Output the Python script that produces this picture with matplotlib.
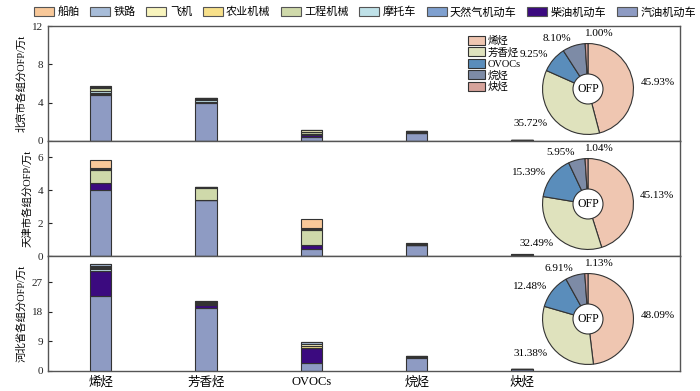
import numpy as np
import matplotlib
matplotlib.use('Agg')
import matplotlib.pyplot as plt
from matplotlib.patches import Patch, Circle

plt.rcParams['font.family'] = ['Liberation Serif', 'Noto Sans CJK SC', 'DejaVu Sans']
plt.rcParams['axes.unicode_minus'] = False

# 数据
categories = ['烯烃', '芳香烃', 'OVOCs', '烷烃', '炔烃']
sources = ['汽油机动车', '柴油机动车', '天然气机动车', '摩托车', '工程机械',
           '农业机械', '飞机', '铁路', '船舶']  # 自下而上堆叠
source_colors = ['#8e9bc3', '#3b0a7f', '#7fa0cf', '#bfe1e8', '#cfd9aa',
                 '#f7e08a', '#f8f4bd', '#a7bcd8', '#f8c899']

# 北京 (万t)
bj_gasoline = [4.75, 4.00, 0.45, 0.80, 0.08]
bj_diesel = [0.20, 0.05, 0.20, 0.05, 0.01]
bj_cng = [0.05, 0.02, 0.05, 0.02, 0.00]
bj_moto = [0.25, 0.25, 0.05, 0.10, 0.01]
bj_constr = [0.30, 0.10, 0.15, 0.03, 0.01]
bj_agri = [0.05, 0.03, 0.05, 0.01, 0.00]
bj_air = [0.05, 0.02, 0.15, 0.01, 0.00]
bj_rail = [0.05, 0.03, 0.05, 0.02, 0.01]
bj_ship = [0.00, 0.00, 0.00, 0.00, 0.00]

# 天津
tj_gasoline = [4.00, 3.39, 0.42, 0.70, 0.08]
tj_diesel = [0.44, 0.00, 0.23, 0.00, 0.00]
tj_cng = [0.00, 0.00, 0.00, 0.00, 0.00]
tj_moto = [0.00, 0.00, 0.00, 0.00, 0.00]
tj_constr = [0.81, 0.77, 0.93, 0.00, 0.00]
tj_agri = [0.05, 0.03, 0.05, 0.02, 0.01]
tj_air = [0.00, 0.00, 0.00, 0.00, 0.00]
tj_rail = [0.05, 0.03, 0.07, 0.05, 0.02]
tj_ship = [0.50, 0.00, 0.56, 0.00, 0.00]

# 河北
hb_gasoline = [22.8, 19.2, 2.5, 4.0, 0.60]
hb_diesel = [7.5, 0.8, 4.4, 0.2, 0.05]
hb_cng = [0.2, 0.05, 0.1, 0.05, 0.0]
hb_moto = [0.4, 0.1, 0.05, 0.05, 0.0]
hb_constr = [0.3, 0.1, 0.1, 0.05, 0.0]
hb_agri = [0.5, 0.3, 0.5, 0.1, 0.02]
hb_air = [0.4, 0.3, 0.55, 0.05, 0.01]
hb_rail = [0.5, 0.5, 0.55, 0.2, 0.05]
hb_ship = [0.0, 0.0, 0.0, 0.0, 0.0]

# 饼图占比 (%)
bj_share = [45.93, 35.72, 9.25, 8.10, 1.00]
tj_share = [45.13, 32.49, 15.39, 5.95, 1.04]
hb_share = [48.09, 31.38, 12.48, 6.91, 1.13]
pie_colors = ['#efc6b1', '#dfe2bd', '#5a8dbb', '#7d8ba6', '#d6a39b']

panels = [
    ('北京市各组分OFP/万t', [bj_gasoline, bj_diesel, bj_cng, bj_moto, bj_constr,
                          bj_agri, bj_air, bj_rail, bj_ship], bj_share, 12, [0, 4, 8, 12]),
    ('天津市各组分OFP/万t', [tj_gasoline, tj_diesel, tj_cng, tj_moto, tj_constr,
                          tj_agri, tj_air, tj_rail, tj_ship], tj_share, 7, [0, 2, 4, 6]),
    ('河北省各组分OFP/万t', [hb_gasoline, hb_diesel, hb_cng, hb_moto, hb_constr,
                          hb_agri, hb_air, hb_rail, hb_ship], hb_share, 35, [0, 9, 18, 27]),
]

W, H = 700, 391
fig = plt.figure(figsize=(7, 3.91), dpi=100)

left, right = 48 / W, 680 / W
tops = [26, 141, 256]
ph = 115
x = np.arange(len(categories))
edge = '#333333'

for i, (ylabel, stacks, share, ymax, yticks) in enumerate(panels):
    top = tops[i]
    ax = fig.add_axes([left, 1 - (top + ph) / H, right - left, ph / H])
    bottom = np.zeros(len(categories))
    for vals, col in zip(stacks, source_colors):
        vals = np.array(vals)
        ax.bar(x, vals, width=0.2, bottom=bottom, color=col,
               edgecolor=edge, linewidth=0.8)
        bottom += vals
    ax.set_xlim(-0.5, 5.5)
    ax.set_ylim(0, ymax)
    ax.set_yticks(yticks)
    ax.tick_params(axis='y', direction='in', length=3, labelsize=8, colors='#222222')
    ax.tick_params(axis='x', length=0)
    ax.set_xticks(x)
    if i == 2:
        ax.set_xticklabels(categories, fontsize=9)
    else:
        ax.set_xticklabels([])
    ax.set_ylabel(ylabel, fontsize=7.5, labelpad=4)
    for s in ax.spines.values():
        s.set_color('#555555')
        s.set_linewidth(1.0)

    # 饼图
    cx, cy = 588, top + 63
    size = 100
    pax = fig.add_axes([(cx - size / 2) / W, 1 - (cy + size / 2) / H, size / W, size / H])
    wedges, _ = pax.pie(share, colors=pie_colors, startangle=90, counterclock=False,
                        radius=1.0, wedgeprops=dict(edgecolor='#333333', linewidth=0.8))
    pax.add_patch(Circle((0, 0), 0.33, facecolor='white', edgecolor='#333333',
                         linewidth=0.8, zorder=5))
    pax.text(0, 0, 'OFP', ha='center', va='center', fontsize=8.5, zorder=6)
    for j, (w, v) in enumerate(zip(wedges, share)):
        ang = np.deg2rad((w.theta1 + w.theta2) / 2)
        c, s = np.cos(ang), np.sin(ang)
        px, py = 1.16 * c, 1.16 * s
        if j == len(share) - 1:
            ha = 'center'
            px = 0.25
            py = 1.22
        elif c > 0.15:
            ha = 'left'
        elif c < -0.15:
            ha = 'right'
        else:
            ha = 'center'
        pax.text(px, py, f'{v:.2f}%', ha=ha, va='center', fontsize=8)
    pax.set_xlim(-1.1, 1.1)
    pax.set_ylim(-1.1, 1.1)
    pax.set_aspect('equal')
    pax.axis('off')

    if i == 0:
        handles = [Patch(facecolor=c, edgecolor='#333333', linewidth=0.8) for c in pie_colors]
        fig.legend(handles, categories, loc='upper left',
                   bbox_to_anchor=(462 / W, 1 - 29 / H), frameon=False,
                   fontsize=7.5, handlelength=1.6, handleheight=0.95,
                   labelspacing=0.12, borderpad=0.1, handletextpad=0.25)

# 顶部图例
handles = [Patch(facecolor=c, edgecolor='#555555', linewidth=0.8)
           for c in source_colors[::-1]]
fig.legend(handles, sources[::-1], loc='upper center', ncol=9,
           bbox_to_anchor=(365 / W, 1.0), frameon=False, fontsize=8,
           handlelength=1.8, handleheight=0.9, columnspacing=0.95,
           handletextpad=0.3, borderpad=0.1)

fig.savefig('out.png', dpi=100)
